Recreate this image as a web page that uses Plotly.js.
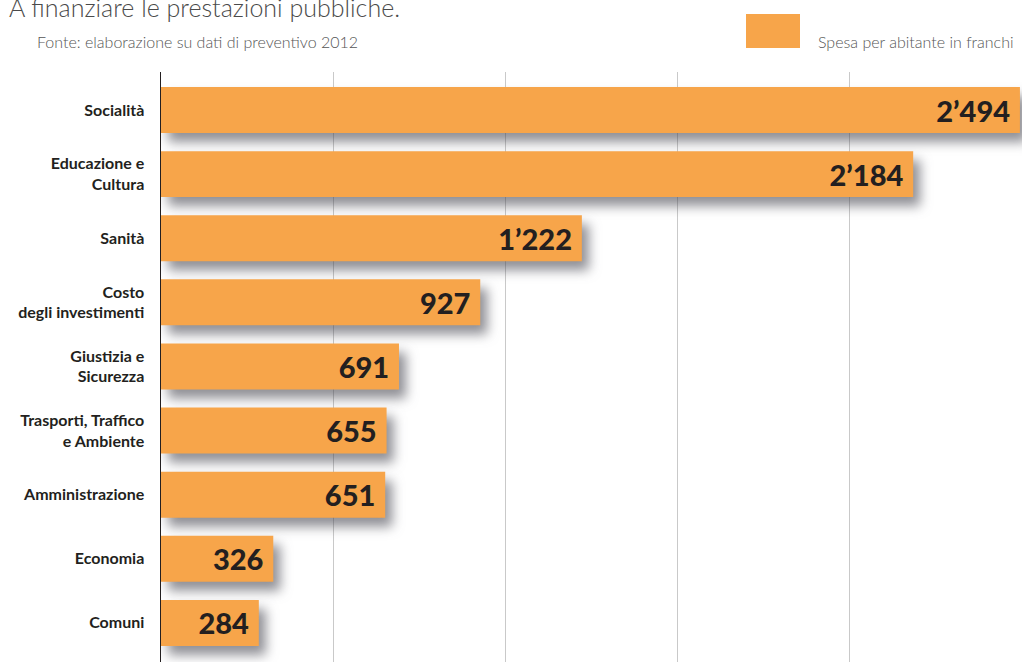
<!DOCTYPE html>
<html><head><meta charset="utf-8">
<script src="https://cdn.plot.ly/plotly-3.0.1.min.js"></script>
<style>
html,body{margin:0;padding:0;background:#fff;}
#chart{width:1025px;height:662px;}
.barlayer .point path{filter:drop-shadow(7px 9px 6px rgba(70,70,80,0.6));}
</style>
</head><body>
<div id="chart"></div>
<script>
const categories = ["Socialità","Educazione e<br>Cultura","Sanità","Costo<br>degli investimenti","Giustizia e<br>Sicurezza","Trasporti, Traffico<br>e Ambiente","Amministrazione","Economia","Comuni"];
const values = [2494,2184,1222,927,691,655,651,326,284];
const valueLabels = ["2’494","2’184","1’222","927","691","655","651","326","284"];
const seriesName = "Spesa per abitante in franchi";
const titleText = "A finanziare le prestazioni pubbliche.";
const sourceText = "Fonte: elaborazione su dati di preventivo 2012";

const trace = {
  type:'bar', orientation:'h',
  x: values, y: categories, text: valueLabels,
  name: seriesName,
  texttemplate:'%{text}\u00a0', textposition:'inside', insidetextanchor:'end',
  constraintext:'none',
  textfont:{family:'Lato, "DejaVu Sans", sans-serif', size:29, color:'#231f20', weight:900},
  marker:{color:'#f7a54a', line:{width:0}},
  hoverinfo:'none'
};
const layout = {
  width:1025, height:662,
  margin:{l:161, r:3, t:72, b:0, pad:0},
  paper_bgcolor:'#fff', plot_bgcolor:'#fff',
  showlegend:false,
  bargap:0.283,
  xaxis:{range:[0,2500], dtick:500, showgrid:true, gridcolor:'#c9c9c9', gridwidth:1,
         zeroline:false, showticklabels:false, ticks:'', showline:false, fixedrange:true},
  yaxis:{type:'category', categoryarray:categories, categoryorder:'array', autorange:false, range:[8.61,-0.593],
         showline:true, linecolor:'#231f20', linewidth:1.5, ticks:'', ticklabelstandoff:12,
         tickfont:{family:'Lato, "DejaVu Sans", sans-serif', size:16, color:'#231f20', weight:700},
         showgrid:false, zeroline:false, fixedrange:true},
  shapes:[{type:'rect', xref:'paper', yref:'paper', x0:(746-161)/861, x1:(800-161)/861,
           y0:(662-48)/590, y1:(662-14)/590, fillcolor:'#f7a54a', line:{width:0}, layer:'above'}],
  annotations:[
    {text:titleText, xref:'paper', yref:'paper', x:(7-161)/861, y:(662-24)/590, xanchor:'left', yanchor:'bottom',
     showarrow:false, font:{family:'Lato, sans-serif', size:25, color:'#4a4a4a', weight:300}},
    {text:sourceText, xref:'paper', yref:'paper', x:(35-161)/861, y:(662-42)/590, xanchor:'left', yanchor:'middle',
     showarrow:false, font:{family:'Lato, sans-serif', size:16, color:'#555', weight:300}},
    {text:seriesName, xref:'paper', yref:'paper', x:(816-161)/861, y:(662-41)/590, xanchor:'left', yanchor:'middle',
     showarrow:false, font:{family:'Lato, sans-serif', size:16, color:'#555', weight:300}}
  ]
};
Plotly.newPlot('chart',[trace],layout,{displayModeBar:false, staticPlot:true});
</script>
</body></html>
